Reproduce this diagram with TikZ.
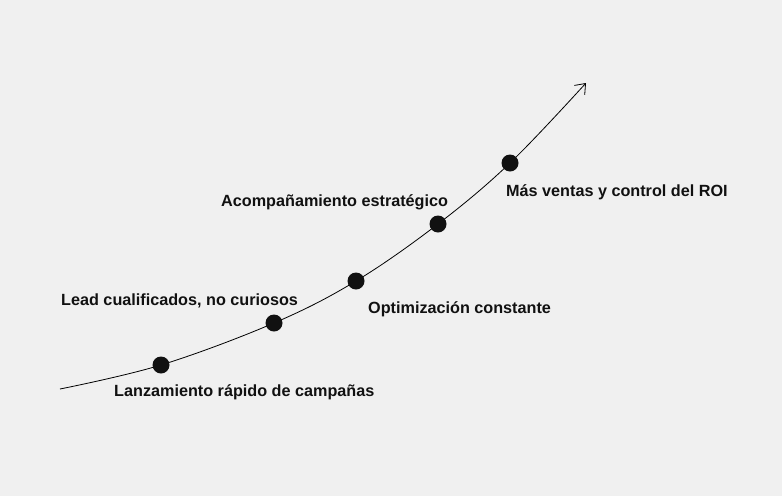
\documentclass[tikz,border=0pt]{standalone}
\usepackage{fontspec}
\setmainfont{Liberation Sans}
\usepackage{tikz}
\usetikzlibrary{arrows.meta, positioning}
\definecolor{cBack}{HTML}{F0F0F0}
\definecolor{cText}{HTML}{111111}

\begin{document}
\begin{tikzpicture}[x=1pt, y=-1pt, every node/.style={font=\bfseries\fontsize{16.2}{19}\selectfont, text=cText},
  dot/.style={circle, fill=cText, inner sep=0pt, minimum size=17pt},
  lbl/.style={anchor=base west, inner sep=0pt},
  arr/.style={-{Straight Barb[length=9pt, width=14pt, line width=0.8pt]}, line width=0.8pt}]
  \fill[cBack] (0,0) rectangle (782,496);
  \useasboundingbox (0,0) rectangle (782,496);
  \coordinate (start) at (60,389);
  \coordinate (tip) at (586,83);
  % growth curve
  \draw[arr] plot[smooth, tension=0.6] coordinates {(60,389) (161,365) (274,323) (356,281) (438,224) (510,163) (586,83)};
  \node[dot] (launch) at (161,365) {};
  \node[dot] (lead) at (274,323) {};
  \node[dot] (optim) at (356,281) {};
  \node[dot] (support) at (438,224) {};
  \node[dot] (sales) at (510,163) {};
  \node[lbl] (tlaunch) at (114,396) {Lanzamiento rápido de campañas};
  \node[lbl] (tlead) at (61,305) {Lead cualificados, no curiosos};
  \node[lbl] (toptim) at (368,313) {Optimización constante};
  \node[lbl] (tsupport) at (221,206) {Acompañamiento estratégico};
  \node[lbl] (tsales) at (506,196) {Más ventas y control del ROI};
\end{tikzpicture}
\end{document}
